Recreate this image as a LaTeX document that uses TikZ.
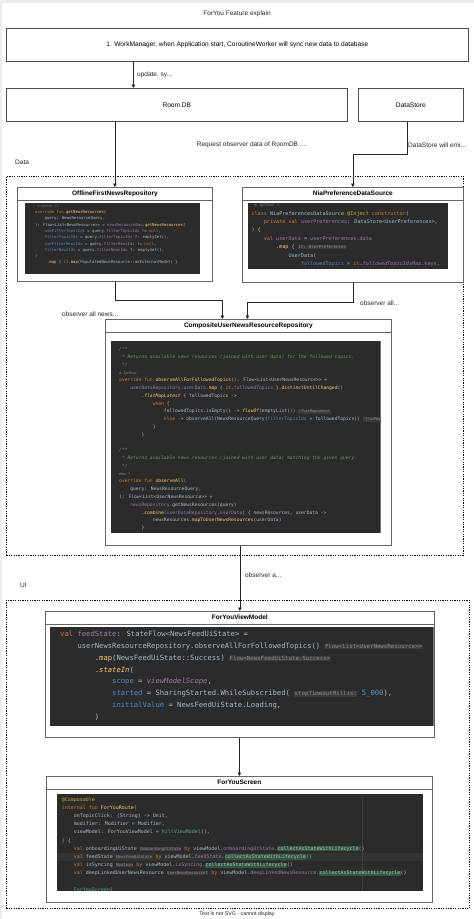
\documentclass[tikz,border=0pt]{standalone}
\usepackage{fontspec}
\setmainfont{Liberation Sans}
\newfontfamily\codefont{DejaVu Sans Mono}
\usetikzlibrary{arrows.meta}

\definecolor{codebg}{HTML}{2B2B2B}
\definecolor{caret}{HTML}{323232}
\definecolor{guide}{HTML}{3E3E3E}
\definecolor{txt}{HTML}{A9B7C6}
\definecolor{kw}{HTML}{CC7832}
\definecolor{fn}{HTML}{FFC66D}
\definecolor{fld}{HTML}{9876AA}
\definecolor{cmt}{HTML}{629755}
\definecolor{par}{HTML}{4F86C6}
\definecolor{ann}{HTML}{BBB529}
\definecolor{num}{HTML}{6897BB}
\definecolor{hint}{HTML}{8C8C8C}
\definecolor{hintbg}{HTML}{3B3B3B}
\definecolor{hlgreen}{HTML}{32593D}
\definecolor{tealfn}{HTML}{56A890}

% code colouring
\newcommand\ckw[1]{\textcolor{kw}{#1}}
\newcommand\cfun[1]{\textcolor{fn}{#1}}
\newcommand\cfit[1]{\textcolor{fn}{\itshape #1}}
\newcommand\cvar[1]{\textcolor{fld}{#1}}
\newcommand\cvit[1]{\textcolor{fld}{\itshape #1}}
\newcommand\ccom[1]{\textcolor{cmt}{\itshape #1}}
\newcommand\cpar[1]{\textcolor{par}{#1}}
\newcommand\cann[1]{\textcolor{ann}{#1}}
\newcommand\cnum[1]{\textcolor{num}{#1}}
\newcommand\cteal[1]{\textcolor{tealfn}{#1}}
\newcommand\cgray[1]{\scalebox{0.8}{\textcolor{hint}{#1}}}
\newcommand\chint[1]{{\fboxsep=0.4pt\colorbox{hintbg}{\scalebox{0.8}{\textcolor{hint}{#1}}}}}
\newcommand\chl[1]{{\fboxsep=0.2pt\colorbox{hlgreen}{#1}}}
\newcommand\cind[1]{\hspace*{#1\fontcharwd\font`x}\ignorespaces}

\begin{document}
\begin{tikzpicture}[x=1pt,y=-1pt,
  box/.style={draw=black!70,line width=0.7pt,fill=white,inner sep=0pt,anchor=north west,font=\fontsize{6.6}{8}\selectfont},
  lane/.style={draw=black!60,line width=0.7pt,fill=white,inner sep=0pt,anchor=north west},
  lanetitle/.style={font=\fontsize{6.5}{8}\selectfont\bfseries,inner sep=0pt},
  lbl/.style={font=\fontsize{6.5}{8}\selectfont,inner sep=0pt,text=black!85},
  group/.style={draw=black,line width=0.7pt,dash pattern=on 1.2pt off 1.2pt,inner sep=0pt,anchor=north west},
  arr/.style={draw=black!85,line width=0.7pt,-{Triangle[length=3.5pt,width=3.5pt]}},
  code/.style={anchor=north west,inner sep=0pt,align=left,text=txt}]

\useasboundingbox (0,0) rectangle (474,919);
\fill [white] (0,0) rectangle (474,919);
\fill [black!7] (0,0) rectangle (474,2.5);
\fill [black!7] (0,0) rectangle (2,919);

\node [lbl] (title) at (237,14) {ForYou Feature explain};
\node [box,minimum width=462pt,minimum height=33pt] (work) at (6,28) {1. WorkManager, when Application start, CoroutineWorker will sync new data to database};
\node [box,minimum width=341pt,minimum height=33pt] (room) at (6,88) {Room DB};
\node [box,minimum width=105pt,minimum height=33pt] (store) at (358,88) {DataStore};
\draw [arr] ([xshift=-104pt]work.south) -- ([xshift=-43.5pt]room.north);
\node [lbl,anchor=west] (work-l) at (137,75) {update, sy...};

\node [lbl] (room-l) at (252,145) {Request observer data of RoomDB ....};
\node [lbl,anchor=west] (data-l) at (15,162) {Data};

%%%%%%%%%%%%%%%%%%%%%%%%%%%% data layer
\node [group,minimum width=457pt,minimum height=379pt] (data) at (6,176) {};

\node [lane,minimum width=195pt,minimum height=94pt] (repo) at (17,187) {};
\draw [black!60,line width=0.7pt] ([yshift=-13pt]repo.north west) -- ([yshift=-13pt]repo.north east);
\node [lanetitle] (repo-t) at ([yshift=-6.5pt]repo.north) {OfflineFirstNewsRepository};
\begin{scope}
\clip (25,203) rectangle (200,274);
\fill [codebg] (25,203) rectangle (200,274);
\node [code,font=\codefont\fontsize{3.94}{6.3}\selectfont] (repo-c) at (35,204) {\rule{0pt}{3pt}\cind{1}\cgray{± Author +1}\\
\ckw{override fun} \cfun{getNewsResources}(\\
\cind{4}query: NewsResourceQuery,\\
): Flow<List<NewsResource>{}> = \cvar{newsResourceDao}.\cfun{getNewsResources}(\\
\cind{4}\cpar{useFilterTopicIds} = query.\cvar{filterTopicIds} != \ckw{null},\\
\cind{4}\cpar{filterTopicIds} = query.\cvar{filterTopicIds} ?: emptySet(),\\
\cind{4}\cpar{useFilterNewsIds} = query.\cvar{filterNewsIds} != \ckw{null},\\
\cind{4}\cpar{filterNewsIds} = query.\cvar{filterNewsIds} ?: emptySet(),\\
)\\
\cind{5}.\cfun{map} \{ \ckw{it}.\cfun{map}(PopulatedNewsResource::asExternalModel) \}};
\end{scope}

\node [lane,minimum width=221pt,minimum height=95pt] (pref) at (242,187) {};
\draw [black!60,line width=0.7pt] ([yshift=-13pt]pref.north west) -- ([yshift=-13pt]pref.north east);
\node [lanetitle] (pref-t) at ([yshift=-6.5pt]pref.north) {NiaPreferenceDataSource};
\begin{scope}
\clip (248,203) rectangle (448,269);
\fill [codebg] (248,203) rectangle (448,269);
\node [code,font=\codefont\fontsize{5.13}{8.4}\selectfont] (pref-c) at (251.3,203) {\rule{0pt}{3.5pt}\cind{1}\cgray{± Author *}\\
\ckw{class} NiaPreferencesDataSource \cann{@Inject} \ckw{constructor}(\\
\cind{4}\ckw{private val} \cvar{userPreferences}: DataStore<UserPreferences>,\\
) \cfun{\{}\\
\cind{4}\ckw{val} \cvar{userData} = \cvar{userPreferences}.\cvar{data}\\
\cind{8}.\cfun{map} \{ \chint{it: UserPreferences}\\
\cind{12}UserData(\\
\cind{16}\cpar{followedTopics} = \ckw{it}.\cvit{followedTopicIdsMap}.\cvar{keys},};
\end{scope}

\draw [arr] (room.south -| repo.north) -- (repo.north);
\draw [arr] ([xshift=-3.5pt]store.south) -- ++(0,33) -| (pref.north);
\node [lbl,anchor=west] (store-l) at (408,145) {DataStore will emi...};

\node [lane,minimum width=286pt,minimum height=226pt] (comp) at (105,319) {};
\draw [black!60,line width=0.7pt] ([yshift=-13pt]comp.north west) -- ([yshift=-13pt]comp.north east);
\node [lanetitle] (comp-t) at ([yshift=-6.5pt]comp.north) {CompositeUserNewsResourceRepository};
\begin{scope}
\clip (111,341) rectangle (380.7,533.3);
\fill [codebg] (111,341) rectangle (380.7,533.3);
\node [code,font=\codefont\fontsize{4.65}{7.78}\selectfont] (comp-c) at (119,347) {\rule{0pt}{3.5pt}\ccom{/**}\\
\cind{1}\ccom{* Returns available news resources (joined with user data) for the followed topics.}\\
\cind{1}\ccom{*/}\\
\cgray{± Author}\\
\ckw{override fun} \cfun{observeAllForFollowedTopics}(): Flow<List<UserNewsResource>{}> =\\
\cind{4}\cvar{userDataRepository}.\cvar{userData}.\cfun{map} \{ \ckw{it}.\cvar{followedTopics} \}.\cfun{distinctUntilChanged}()\\
\cind{8}.\cfit{flatMapLatest} \{ followedTopics ->\\
\cind{12}\ckw{when} \{\\
\cind{16}followedTopics.isEmpty() -> \cfit{flowOf}(emptyList()) \chint{\textasciicircum flatMapLatest}\\
\cind{16}\ckw{else} -> observeAll(NewsResourceQuery(\cpar{filterTopicIds} = followedTopics)) \chint{\textasciicircum flatMapLatest}\\
\cind{12}\}\\
\cind{8}\}\\
\mbox{}\\
\ccom{/**}\\
\cind{1}\ccom{* Returns available news resources (joined with user data) matching the given query.}\\
\cind{1}\ccom{*/}\\
\cgray{new *}\\
\ckw{override fun} \cfun{observeAll}(\\
\cind{4}query: NewsResourceQuery,\\
): Flow<List<UserNewsResource>{}> =\\
\cind{4}\cvar{newsRepository}.getNewsResources(query)\\
\cind{8}.\cfun{combine}(\cvar{userDataRepository}.\cvar{userData}) \{ newsResources, userData ->\\
\cind{12}newsResources.\cfun{mapToUserNewsResources}(userData)\\
\cind{8}\}};
\end{scope}

\draw [arr] (repo.south) -- ++(0,19) -| ([xshift=-26pt]comp.north);
\draw [arr] (pref.south) -- ++(0,20) -| ([xshift=-1pt]comp.north);
\node [lbl,anchor=west] (repo-l) at (62,314) {observer all news...};
\node [lbl,anchor=west] (pref-l) at (360,303) {observer all...};

%%%%%%%%%%%%%%%%%%%%%%%%%%%% ui layer
\node [lbl,anchor=west] (ui-l) at (20,585) {UI};
\node [group,minimum width=463pt,minimum height=308pt] (ui) at (6,600) {};

\node [lane,minimum width=389pt,minimum height=126pt] (vm) at (45,611) {};
\draw [black!60,line width=0.7pt] ([yshift=-13pt]vm.north west) -- ([yshift=-13pt]vm.north east);
\node [lanetitle] (vm-t) at ([yshift=-6.5pt]vm.north) {ForYouViewModel};
\begin{scope}
\clip (50,627.3) rectangle (433.5,725.7);
\fill [codebg] (50,627.3) rectangle (433.5,725.7);
\node [code,font=\codefont\fontsize{7.2}{11.8}\selectfont] (vm-c) at (60,631) {\rule{0pt}{5.3pt}\ckw{val} \cvar{feedState}: StateFlow<NewsFeedUiState> =\\
\cind{4}userNewsResourceRepository.observeAllForFollowedTopics() \chint{Flow<List<UserNewsResource>{}>}\\
\cind{8}.\cfun{map}(NewsFeedUiState::Success) \chint{Flow<NewsFeedUiState.Success>}\\
\cind{8}.\cfit{stateIn}(\\
\cind{12}\cpar{scope} = \cvit{viewModelScope},\\
\cind{12}\cpar{started} = SharingStarted.WhileSubscribed( \chint{stopTimeoutMillis:} \cnum{5\_000}),\\
\cind{12}\cpar{initialValue} = NewsFeedUiState.Loading,\\
\cind{8})};
\end{scope}

\draw [arr] (comp.south -| vm.north) -- (vm.north);
\node [lbl,anchor=west] (comp-l) at (245,575) {observer a...};

\node [lane,minimum width=386pt,minimum height=126pt] (screen) at (46,776) {};
\draw [black!60,line width=0.7pt] ([yshift=-13pt]screen.north west) -- ([yshift=-13pt]screen.north east);
\node [lanetitle] (screen-t) at ([yshift=-6.5pt]screen.north) {ForYouScreen};
\begin{scope}
\clip (56.7,794) rectangle (423.3,890.7);
\fill [codebg] (56.7,794) rectangle (423.3,890.7);
\fill [caret] (56.7,853) rectangle (423.3,861);
\draw [guide,line width=0.5pt] (362.7,794) -- (362.7,890.7);
\node [code,font=\codefont\fontsize{4.98}{8.2}\selectfont] (screen-c) at (61.7,797) {\rule{0pt}{3.7pt}\cann{@Composable}\\
\ckw{internal fun} \cfun{ForYouRoute}(\\
\cind{4}onTopicClick: (String) -> Unit,\\
\cind{4}modifier: Modifier = Modifier,\\
\cind{4}viewModel: ForYouViewModel = \cteal{hiltViewModel}(),\\
) \{\\
\cind{4}\ckw{val} onboardingUiState \chint{OnboardingUiState} \ckw{by} viewModel.\cvar{onboardingUiState}.\chl{collectAsStateWithLifecycle}()\\
\cind{4}\ckw{val} feedState \chint{NewsFeedUiState} \ckw{by} viewModel.\cvar{feedState}.\chl{collectAsStateWithLifecycle}()\\
\cind{4}\ckw{val} isSyncing \chint{Boolean} \ckw{by} viewModel.\cvar{isSyncing}.\chl{collectAsStateWithLifecycle}()\\
\cind{4}\ckw{val} deepLinkedUserNewsResource \chint{UserNewsResource?} \ckw{by} viewModel.\cvar{deepLinkedNewsResource}.\chl{collectAsStateWithLifecycle}()\\
\mbox{}\\
\cind{4}\cteal{ForYouScreen}(};
\end{scope}

\draw [arr] (vm.south -| screen.north) -- (screen.north);

\node [lbl,font=\fontsize{5.3}{6}\selectfont] (foot) at (237,914) {Text is not SVG - cannot display};

\end{tikzpicture}
\end{document}
